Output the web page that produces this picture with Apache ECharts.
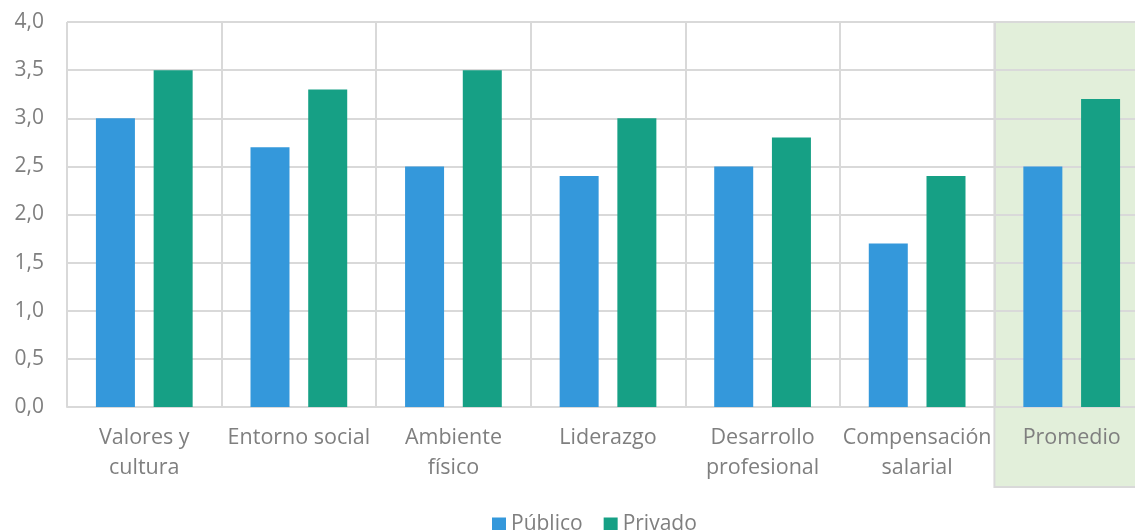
<!DOCTYPE html>
<html>
<head>
<meta charset="utf-8">
<script src="https://cdn.jsdelivr.net/npm/echarts@6/dist/echarts.min.js"></script>
<style>
  html, body { margin: 0; padding: 0; background: #fff; }
  #chart { width: 1135px; height: 530px; }
</style>
</head>
<body>
<div id="chart"></div>
<script>
// datos
const categorias = [
  "Valores y\ncultura",
  "Entorno social",
  "Ambiente\nfísico",
  "Liderazgo",
  "Desarrollo\nprofesional",
  "Compensación\nsalarial",
  "Promedio"
];
const publico = [3.0, 2.7, 2.5, 2.4, 2.5, 1.7, 2.5];
const privado = [3.5, 3.3, 3.5, 3.0, 2.8, 2.4, 3.2];
const nombres = ["Público", "Privado"];

const gris = "#7f7f7f";
const lineas = "#d9d9d9";
const fuente = "'Open Sans', 'Noto Sans', sans-serif";

const chart = echarts.init(document.getElementById("chart"));

const option = {
  backgroundColor: "#fff",
  animation: false,
  // el área de trazado se sale un poco por la derecha, como en el original
  grid: { left: 67, right: -14, top: 22, bottom: 123, outerBoundsMode: "none" },
  legend: {
    data: nombres,
    bottom: -10,
    left: 487,
    itemWidth: 14,
    itemHeight: 14,
    itemGap: 21,
    icon: "rect",
    textStyle: { color: gris, fontSize: 21, fontFamily: fuente }
  },
  xAxis: {
    type: "category",
    data: categorias,
    axisTick: { show: false },
    axisLine: { lineStyle: { color: lineas, width: 2 } },
    axisLabel: {
      color: gris,
      fontSize: 21.5,
      fontFamily: fuente,
      lineHeight: 30,
      margin: 16,
      interval: 0
    },
    splitLine: { show: true, lineStyle: { color: lineas, width: 2 } }
  },
  yAxis: {
    type: "value",
    min: 0,
    max: 4,
    interval: 0.5,
    axisLine: { show: false },
    axisTick: { show: false },
    axisLabel: {
      color: gris,
      fontSize: 21,
      fontFamily: fuente,
      margin: 23,
      formatter: v => v.toFixed(1).replace(".", ",")
    },
    splitLine: { lineStyle: { color: lineas, width: 2 } }
  },
  series: [
    {
      name: nombres[0],
      type: "bar",
      data: publico,
      barWidth: 39,
      barGap: "48%",
      itemStyle: { color: "#3498db" }
    },
    {
      name: nombres[1],
      type: "bar",
      data: privado,
      barWidth: 39,
      itemStyle: { color: "#16a085" }
    }
  ]
};
chart.setOption(option);

// fondo verde de la categoría "Promedio" (sobresale por debajo del eje)
function pintarFondo() {
  const ultimo = categorias.length - 1;
  const centro = chart.convertToPixel({ xAxisIndex: 0 }, ultimo);
  const paso = centro - chart.convertToPixel({ xAxisIndex: 0 }, ultimo - 1);
  const arriba = chart.convertToPixel({ yAxisIndex: 0 }, 4);
  const x0 = centro - paso / 2;
  chart.setOption({
    graphic: [{
      type: "rect",
      z: -10,
      shape: { x: x0, y: arriba, width: paso, height: 487 - arriba },
      style: { fill: "#e2efda", stroke: lineas, lineWidth: 2 }
    }]
  });
}
pintarFondo();
</script>
</body>
</html>
